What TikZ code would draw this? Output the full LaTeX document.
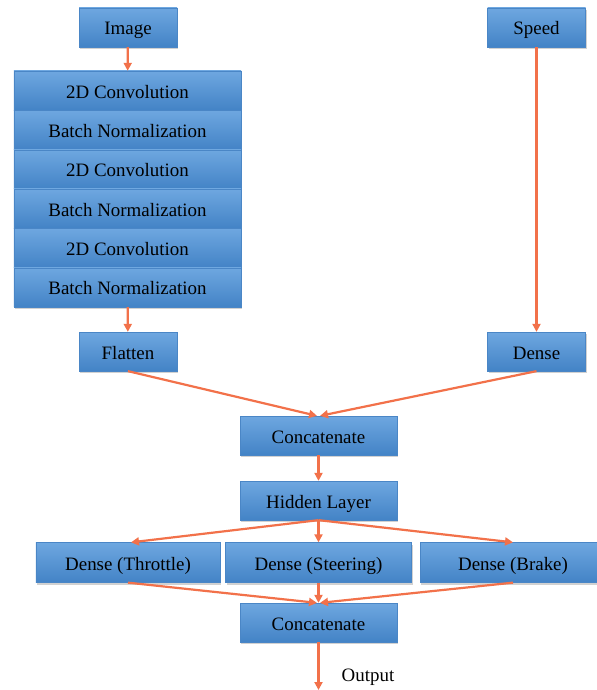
\documentclass[tikz,border=0pt]{standalone}
\usepackage{fontspec}
\setmainfont{Liberation Serif}
\newfontfamily\labelfont{Liberation Serif}
\usetikzlibrary{arrows.meta,shadows}
\definecolor{boxtop}{HTML}{6EA7E0}
\definecolor{boxbot}{HTML}{4383C6}
\definecolor{boxedge}{HTML}{4A86C6}
\definecolor{flow}{HTML}{F2714A}
\tikzset{
  layer/.style={rectangle, inner sep=0pt, top color=boxtop, bottom color=boxbot,
    draw=boxedge, line width=0.3bp, text=black,
    font=\labelfont\fontsize{19}{22}\selectfont,
    text height=16.5bp, text depth=1.5bp,
    drop shadow={shadow xshift=1.2bp, shadow yshift=-2bp, opacity=0.3, fill=black!60}},
  small/.style={layer, minimum width=98bp, minimum height=39bp},
  wide/.style={layer, minimum width=157bp, minimum height=39bp},
  stackrow/.style={layer, minimum width=227bp, minimum height=39.3bp},
  outbox/.style={layer, minimum width=184bp, minimum height=40bp},
  link/.style={draw=flow, line width=2.2bp, -{Triangle[length=8bp,width=8bp]}}
}
\begin{document}
\begin{tikzpicture}[x=1bp,y=-1bp]
\useasboundingbox (0,0) rectangle (597,690);

% inputs
\node[small] (img) at (128,27.5) {Image};
\node[small] (spd) at (536.5,27.5) {Speed};

% convolutional stack
\node[stackrow] (c1) at (127.5,90.6) {2D Convolution};
\node[stackrow] (b1) at (127.5,129.9) {Batch Normalization};
\node[stackrow] (c2) at (127.5,169.3) {2D Convolution};
\node[stackrow] (b2) at (127.5,208.6) {Batch Normalization};
\node[stackrow] (c3) at (127.5,247.9) {2D Convolution};
\node[stackrow] (b3) at (127.5,287.3) {Batch Normalization};

\node[small] (flat) at (128,351.5) {Flatten};
\node[small] (dns) at (536.5,351.5) {Dense};

\node[wide] (cat1) at (318.5,435.5) {Concatenate};
\node[wide] (hid) at (318.5,500.5) {Hidden Layer};

\node[outbox] (thr) at (128,562.5) {Dense (Throttle)};
\node[outbox, minimum width=186bp] (ste) at (318.5,562.5) {Dense (Steering)};
\node[outbox, minimum width=186bp] (brk) at (513,562.5) {Dense (Brake)};

\node[wide] (cat2) at (318.5,622.5) {Concatenate};

\coordinate (out) at (318.5,690);
\node[font=\labelfont\fontsize{19}{22}\selectfont, text=black] (outlbl) at (368,677) {Output};

% connections
\draw[link] (img) -- (c1);
\draw[link] (b3) -- (flat);
\draw[link] (spd) -- (dns);
\draw[link] (flat.south) -- ([xshift=-1.5bp]cat1.north);
\draw[link] (dns.south) -- ([xshift=1.5bp]cat1.north);
\draw[link] (cat1) -- (hid);
\draw[link] (hid.south) -- ([xshift=3bp]thr.north);
\draw[link] (hid.south) -- (ste.north);
\draw[link] (hid.south) -- (brk.north);
\draw[link] (thr.south) -- ([xshift=-1.5bp]cat2.north);
\draw[link] (ste.south) -- (cat2.north);
\draw[link] (brk.south) -- ([xshift=1.5bp]cat2.north);
\draw[link] (cat2) -- (out);
\end{tikzpicture}
\end{document}
